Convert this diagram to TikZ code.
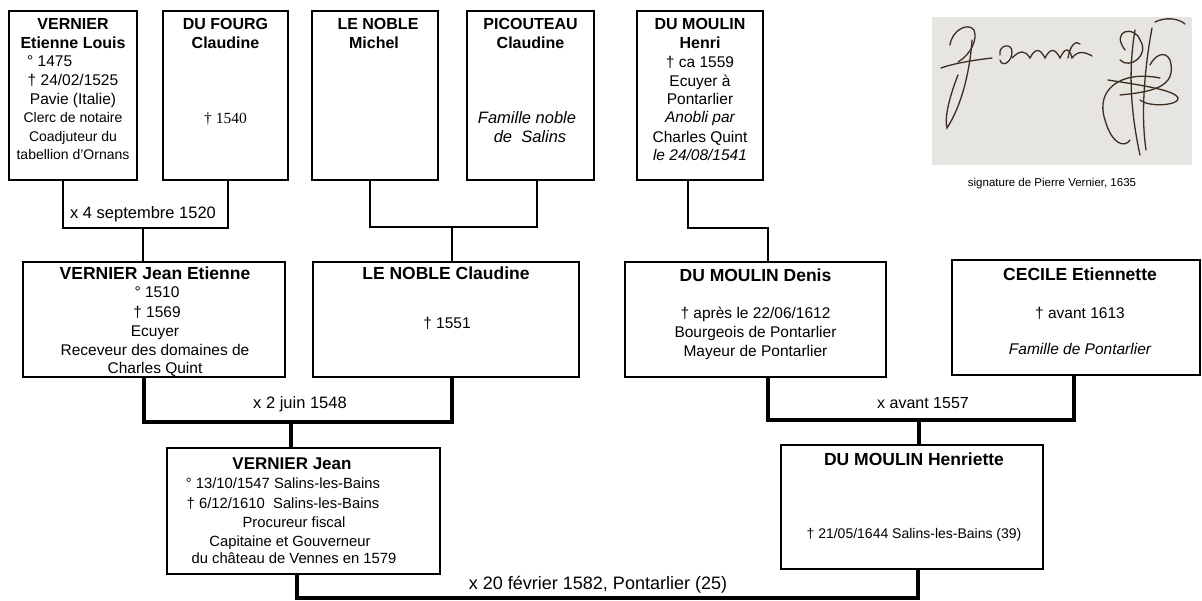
\documentclass[tikz,border=0pt]{standalone}
\usepackage{fontspec}
\setmainfont{Liberation Sans}
\newfontfamily\serifft{Liberation Serif}
\newcommand\fsz[1]{\fontsize{#1}{#1}\selectfont}
\newcommand\ftitlea{\bfseries\fsz{16}}
\newcommand\ftitleb{\bfseries\fsz{17.5}}
\newcommand\fbody{\fsz{15.5}}
\newcommand\fsmall{\fsz{14}}
\newcommand\fjbody{\fsz{14.8}}
\newcommand\fcap{\fsz{11.5}}
\newcommand\flabel{\fsz{16.5}}
\newcommand\putline[5]{\node[lbl,font=#2] (#1) at (#3,#4) {#5};}
\definecolor{sigpaper}{HTML}{E6E5E2}
\definecolor{sigink}{HTML}{3E2C1F}
\tikzset{
  box/.style={draw, line width=2.5pt, inner sep=0pt, outer sep=0pt},
  thinlink/.style={line width=2pt},
  thicklink/.style={line width=4pt},
  lbl/.style={inner sep=0pt, anchor=base},
  lblw/.style={inner sep=0pt, anchor=base west},
  sigstroke/.style={draw=sigink, line width=1.3pt, line cap=round},
}
\begin{document}
\begin{tikzpicture}[x=1pt,y=-1pt]
\useasboundingbox (0,0) rectangle (1202,601);

% ---- top row boxes
\node[box, minimum width=128, minimum height=169] (A) at (73,95.5) {};
\node[box, minimum width=125, minimum height=169] (B) at (225.5,95.5) {};
\node[box, minimum width=126, minimum height=169] (C) at (375,95.5) {};
\node[box, minimum width=127, minimum height=169] (D) at (530.5,95.5) {};
\node[box, minimum width=126, minimum height=169] (E) at (700,95.5) {};

% ---- second row
\node[box, minimum width=262, minimum height=115] (F) at (154,319.5) {};
\node[box, minimum width=266, minimum height=115] (G) at (446,319.5) {};
\node[box, minimum width=261, minimum height=115] (H) at (755.5,319.5) {};
\node[box, minimum width=248, minimum height=115] (I) at (1076,317.5) {};

% ---- third row
\node[box, minimum width=273, minimum height=126] (J) at (303.5,511) {};
\node[box, minimum width=262, minimum height=124] (K) at (912,507) {};

% ---- texts box A
\putline{a1}{\ftitlea}{73}{30}{VERNIER}
\putline{a2}{\ftitlea}{73}{49}{Etienne Louis}
\node[lblw,font=\fbody] (a3) at (27,66.5) {° 1475};
\putline{a4}{\fbody}{73}{85.5}{† 24/02/1525}
\putline{a5}{\fbody}{73}{104.5}{Pavie (Italie)}
\putline{a6}{\fsmall}{73}{123}{Clerc de notaire}
\putline{a7}{\fsmall}{73}{142}{Coadjuteur du}
\putline{a8}{\fsmall}{73}{160}{tabellion d'Ornans}

% box B
\putline{b1}{\ftitlea}{225.5}{30}{DU FOURG}
\putline{b2}{\ftitlea}{225.5}{49}{Claudine}
\putline{b3}{\serifft\fbody}{225.5}{123.5}{† 1540}

% box C
\putline{c1}{\ftitlea}{378}{30}{LE NOBLE}
\putline{c2}{\ftitlea}{374}{49}{Michel}

% box D
\putline{d1}{\ftitlea}{530.5}{30}{PICOUTEAU}
\putline{d2}{\ftitlea}{530.5}{49}{Claudine}
\putline{d3}{\itshape\fsz{16.5}}{527}{123.5}{Famille noble}
\putline{d4}{\itshape\fsz{16.5}}{530}{142.5}{de\ \ Salins}

% box E
\putline{e1}{\ftitlea}{700}{30}{DU MOULIN}
\putline{e2}{\ftitlea}{700}{49}{Henri}
\putline{e3}{\fbody}{700}{67.5}{† ca 1559}
\putline{e4}{\fbody}{700}{86.5}{Ecuyer à}
\putline{e5}{\fbody}{700}{104.5}{Pontarlier}
\putline{e6}{\itshape\fbody}{700}{122.5}{Anobli par}
\putline{e7}{\fbody}{700}{142.5}{Charles Quint}
\putline{e8}{\itshape\fbody}{700}{160.5}{le 24/08/1541}

% box F
\putline{f1}{\ftitleb}{155}{279.3}{VERNIER Jean Etienne}
\putline{f2}{\fbody}{157}{297.5}{° 1510}
\putline{f3}{\fbody}{157}{317.5}{† 1569}
\putline{f4}{\fbody}{155}{336.5}{Ecuyer}
\putline{f5}{\fbody}{155}{355.5}{Receveur des domaines de}
\putline{f6}{\fbody}{155}{373.5}{Charles Quint}

% box G
\putline{g1}{\ftitleb}{446}{279.3}{LE NOBLE Claudine}
\putline{g2}{\fbody}{447}{328.5}{† 1551}

% box H
\putline{h1}{\ftitleb}{755.5}{281.3}{DU MOULIN Denis}
\putline{h2}{\fbody}{755.5}{318.5}{† après le 22/06/1612}
\putline{h3}{\fbody}{755.5}{337.5}{Bourgeois de Pontarlier}
\putline{h4}{\fbody}{755.5}{356.5}{Mayeur de Pontarlier}

% box I
\putline{i1}{\ftitleb}{1080}{280.3}{CECILE Etiennette}
\putline{i2}{\fbody}{1080}{318.5}{† avant 1613}
\putline{i3}{\itshape\fbody}{1080}{354.5}{Famille de Pontarlier}

% box J
\putline{j1}{\bfseries\fsz{17}}{292}{469}{VERNIER Jean}
\putline{j2}{\fjbody}{283}{488.5}{° 13/10/1547 Salins-les-Bains}
\putline{j3}{\fjbody}{283}{508.5}{† 6/12/1610\ \ Salins-les-Bains}
\putline{j4}{\fjbody}{294}{527.5}{Procureur fiscal}
\putline{j5}{\fjbody}{290}{546.5}{Capitaine et Gouverneur}
\putline{j6}{\fjbody}{294}{563.5}{du château de Vennes en 1579}

% box K
\putline{k1}{\ftitleb}{914}{465.3}{DU MOULIN Henriette}
\putline{k2}{\fsmall}{914}{538}{† 21/05/1644 Salins-les-Bains (39)}

% ---- junction coordinates
\coordinate (u1) at (143,228);
\coordinate (u2) at (452,227);
\coordinate (u3) at (768,228);
\coordinate (u4) at (291,422);
\coordinate (u5) at (919,420);
\coordinate (u6) at (600,598);

% ---- connectors
\draw[thinlink] ([xshift=-10pt]A.south) |- (u1) -| ([xshift=2.5pt]B.south);
\draw[thinlink] (u1) -- (u1 |- F.north);
\draw[thinlink] ([xshift=-5pt]C.south) |- (u2) -| ([xshift=6.5pt]D.south);
\draw[thinlink] (u2) -- (u2 |- G.north);
\draw[thinlink] ([xshift=-12pt]E.south) |- (u3) -- (u3 |- H.north);
\draw[thicklink] ([xshift=-10pt]F.south) |- (u4) -| ([xshift=6pt]G.south);
\draw[thicklink] (u4) -- (u4 |- J.north);
\draw[thicklink] ([xshift=12.5pt]H.south) |- (u5) -| ([xshift=-2pt]I.south);
\draw[thicklink] (u5) -- (u5 |- K.north);
\draw[thicklink] ([xshift=-6.5pt]J.south) |- (u6) -| ([xshift=6pt]K.south);

% ---- marriage labels
\putline{m1}{\flabel}{143}{219}{x 4 septembre 1520}
\putline{m2}{\flabel}{300}{409}{x 2 juin 1548}
\putline{m3}{\fsz{16}}{923}{409}{x avant 1557}
\putline{m4}{\fsz{18}}{598}{589.5}{x 20 février 1582, Pontarlier (25)}

% ---- signature picture
\fill[sigpaper] (932,17) rectangle (1192,165);
\path[sigstroke] (950,45) .. controls (952,30) and (968,22) .. (974,30) .. controls (978,40) and (970,55) .. (958,62);
\path[sigstroke] (941,68) .. controls (955,63) and (975,60) .. (992,58);
\path[sigstroke] (972,40) .. controls (970,70) and (962,105) .. (947,128) .. controls (944,118) and (950,95) .. (958,75);
\path[sigstroke] (1000,55) .. controls (998,45) and (1012,42) .. (1012,52) .. controls (1012,62) and (1002,68) .. (1000,60);
\path[sigstroke] (1012,58) .. controls (1020,50) and (1025,50) .. (1030,58) .. controls (1035,48) and (1040,48) .. (1045,58) .. controls (1050,48) and (1055,48) .. (1060,58) .. controls (1066,45) and (1070,50) .. (1072,58) .. controls (1078,50) and (1085,52) .. (1092,56);
\path[sigstroke] (1068,58) .. controls (1070,45) and (1076,40) .. (1080,44);
\path[sigstroke] (1135,30) .. controls (1130,60) and (1128,100) .. (1140,155);
\path[sigstroke] (1152,28) .. controls (1146,60) and (1140,110) .. (1146,150);
\path[sigstroke] (1125,50) .. controls (1110,30) and (1135,25) .. (1140,40) .. controls (1150,55) and (1130,70) .. (1120,60);
\path[sigstroke] (1160,78) .. controls (1120,70) and (1095,90) .. (1105,120) .. controls (1112,145) and (1125,148) .. (1130,140);
\path[sigstroke] (1108,80) .. controls (1140,85) and (1175,90) .. (1178,98) .. controls (1180,105) and (1150,108) .. (1140,100);
\path[sigstroke] (1120,95) .. controls (1150,92) and (1178,88) .. (1170,60) .. controls (1165,50) and (1155,55) .. (1150,65);
\path[sigstroke] (1155,22) .. controls (1165,17) and (1178,18) .. (1185,24);
\putline{sc}{\fcap}{1052}{187}{signature de Pierre Vernier, 1635}
\end{tikzpicture}
\end{document}
